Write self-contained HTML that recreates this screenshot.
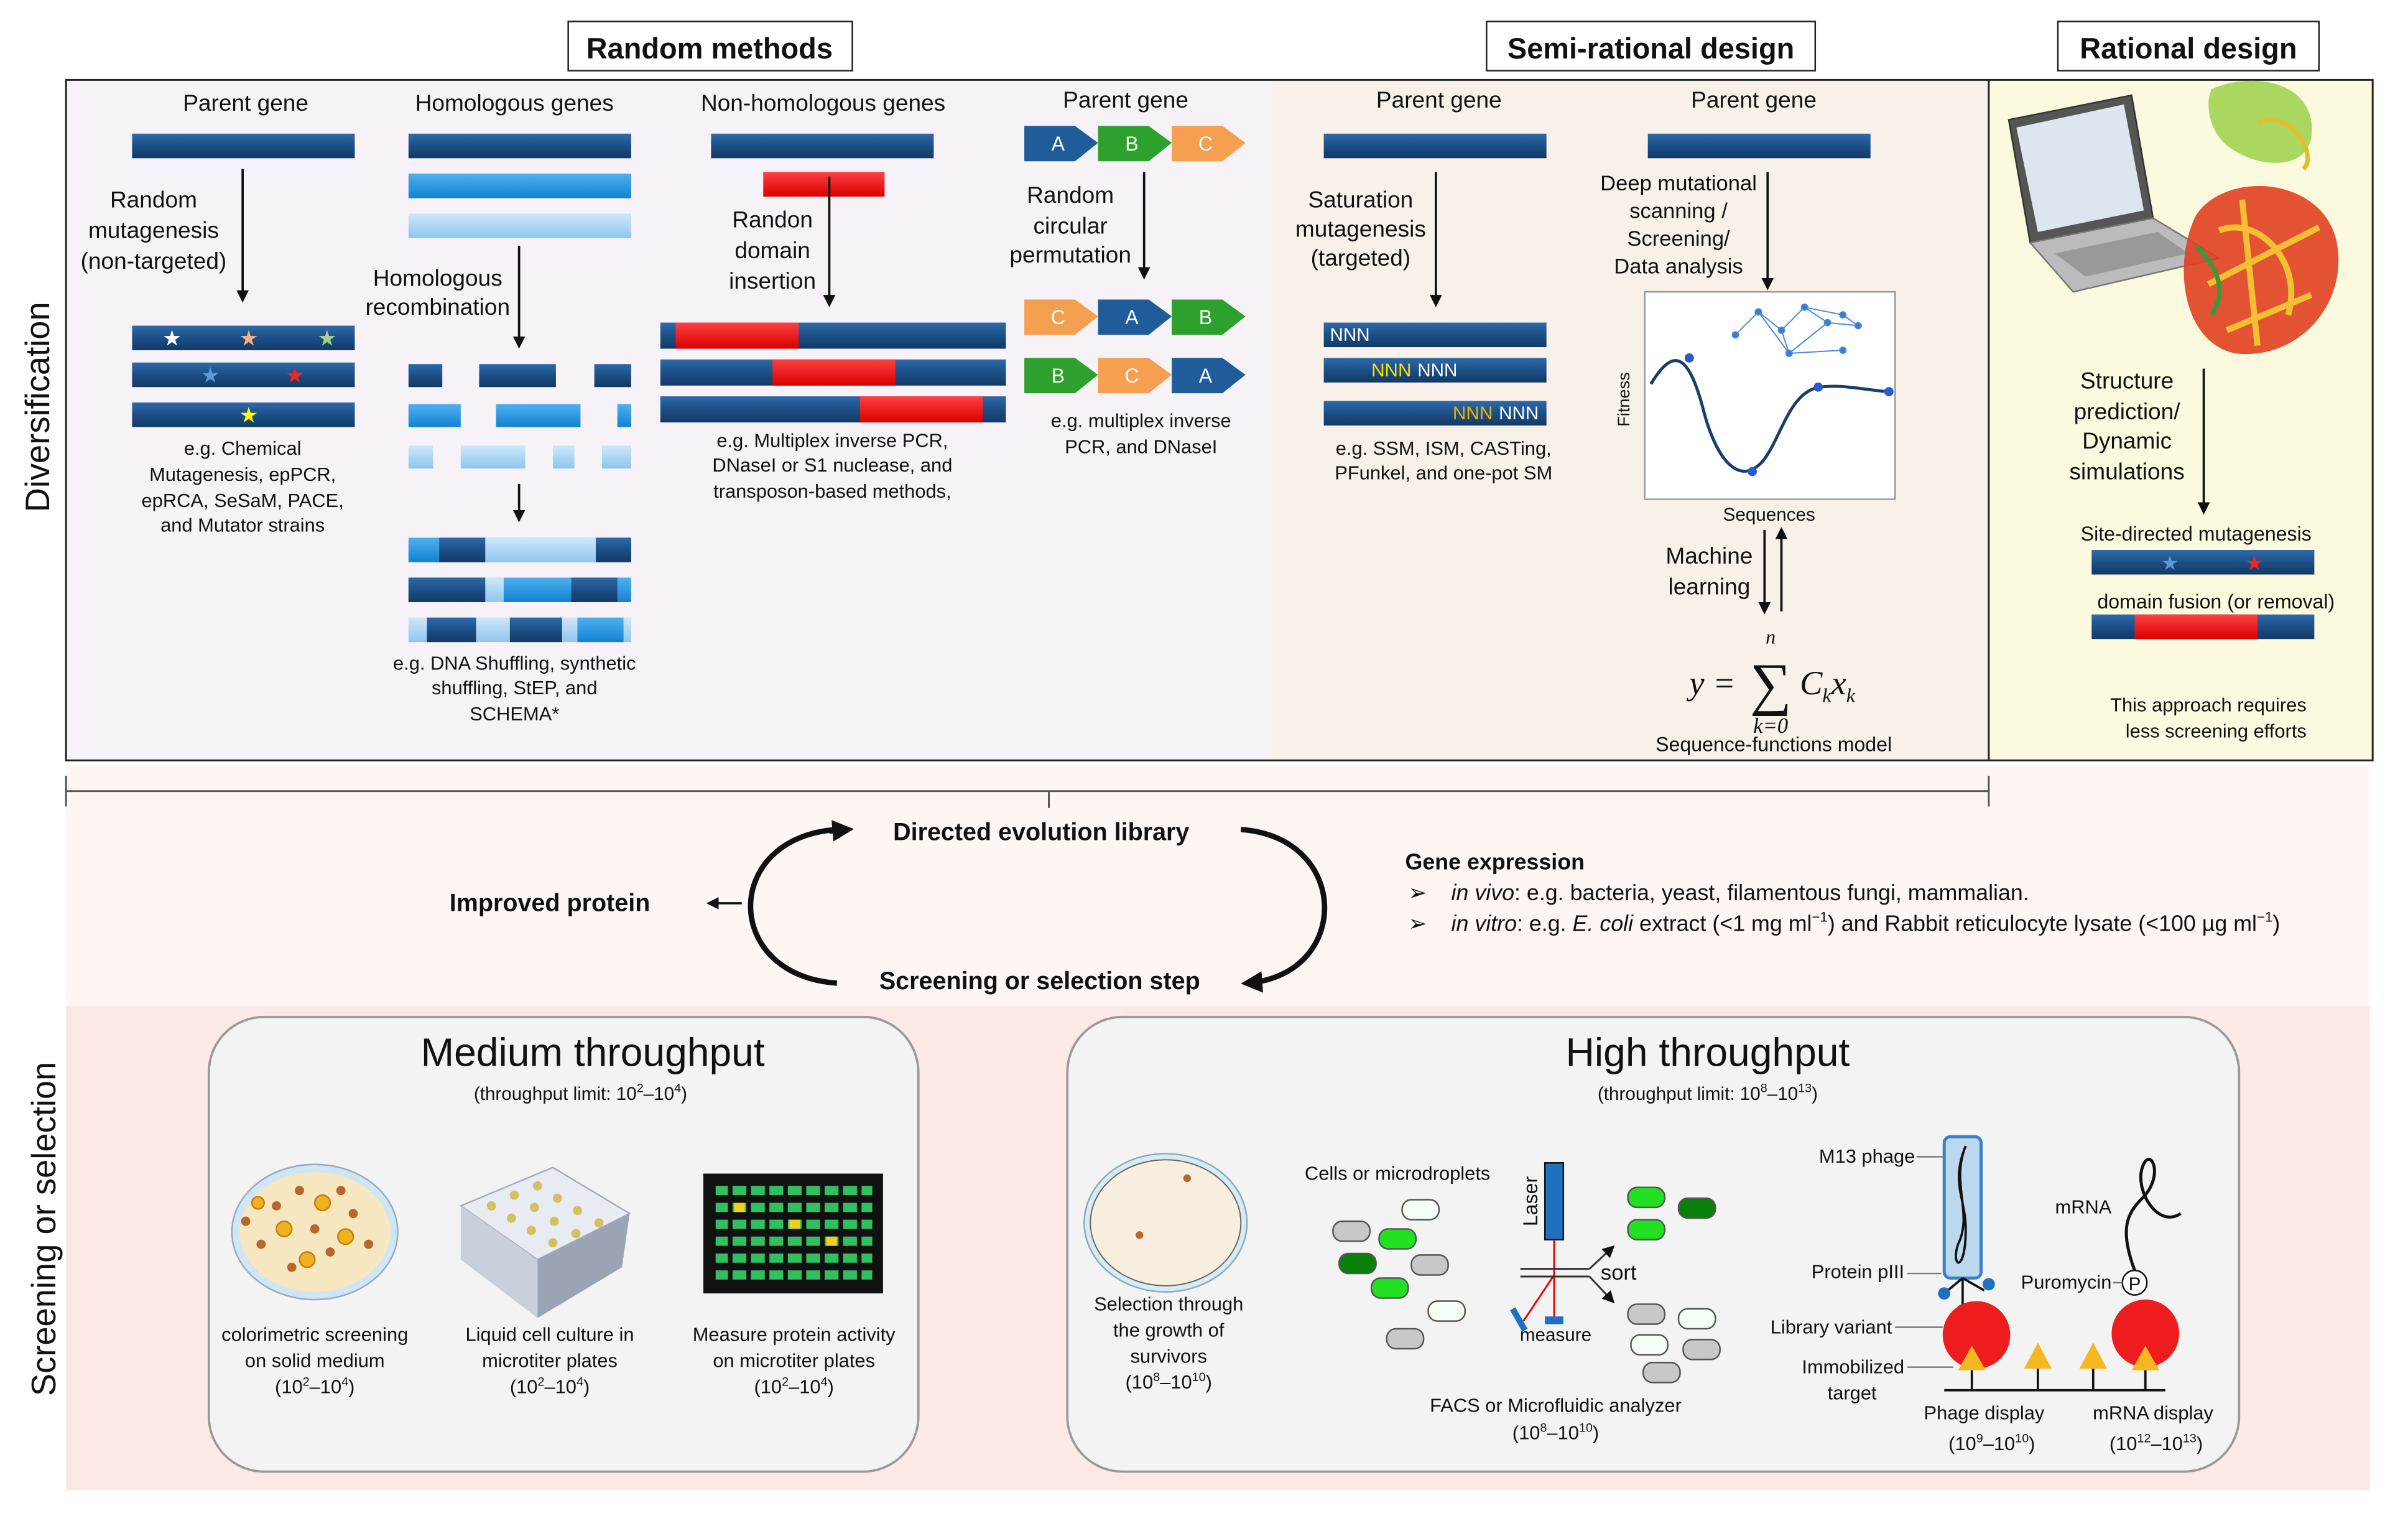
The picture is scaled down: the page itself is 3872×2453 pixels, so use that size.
<!DOCTYPE html>
<html><head><meta charset="utf-8"><style>
html,body{margin:0;padding:0;background:#fff}
svg{display:block}
text{font-family:"Liberation Sans",Arial,sans-serif;fill:#111}
</style></head><body>
<svg width="3872" height="2453" viewBox="0 0 1568 993.4" preserveAspectRatio="none" xmlns="http://www.w3.org/2000/svg">
<defs>
<linearGradient id="db" x1="0" y1="0" x2="0" y2="1"><stop offset="0" stop-color="#2e6aa8"/><stop offset=".5" stop-color="#1c4f86"/><stop offset="1" stop-color="#123a66"/></linearGradient>
<linearGradient id="mb" x1="0" y1="0" x2="0" y2="1"><stop offset="0" stop-color="#4fb0f0"/><stop offset="1" stop-color="#1382d0"/></linearGradient>
<linearGradient id="lb" x1="0" y1="0" x2="0" y2="1"><stop offset="0" stop-color="#cfe8fb"/><stop offset="1" stop-color="#8ec6ee"/></linearGradient>
<linearGradient id="rd" x1="0" y1="0" x2="0" y2="1"><stop offset="0" stop-color="#ff4040"/><stop offset="1" stop-color="#d80000"/></linearGradient>
<marker id="ah" markerWidth="8" markerHeight="8" refX="6" refY="4" orient="auto" markerUnits="userSpaceOnUse"><path d="M0,0 L8,4 L0,8 Z" fill="#111"/></marker>
<marker id="ahb" markerWidth="14" markerHeight="14" refX="10" refY="7" orient="auto" markerUnits="userSpaceOnUse"><path d="M0,0 L14,7 L0,14 Z" fill="#111"/></marker>
</defs>
<rect x="43" y="52" width="785" height="443" fill="#f7f1f8"/>
<rect x="828" y="52" width="467" height="443" fill="#f8f1ea"/>
<rect x="1295" y="52" width="250" height="443" fill="#fbf9de"/>
<rect x="43" y="52" width="1502" height="443" fill="none" stroke="#222" stroke-width="1.2"/>
<line x1="1295" y1="52" x2="1295" y2="495" stroke="#222" stroke-width="1.2"/>
<rect x="43" y="498" width="1500" height="157" fill="#fdf6f3"/>
<rect x="43" y="655" width="1500" height="315" fill="#fce9e6"/>
<rect x="370" y="14" width="185" height="32" fill="#fff" stroke="#222"/><text x="462" y="38" font-size="19" font-weight="bold" text-anchor="middle">Random methods</text>
<rect x="968" y="14" width="214" height="32" fill="#fff" stroke="#222"/><text x="1075" y="38" font-size="19" font-weight="bold" text-anchor="middle">Semi-rational design</text>
<rect x="1340" y="14" width="170" height="32" fill="#fff" stroke="#222"/><text x="1425" y="38" font-size="19" font-weight="bold" text-anchor="middle">Rational design</text>
<text transform="translate(32,265) rotate(-90)" font-size="22" text-anchor="middle">Diversification</text>
<text transform="translate(36,800) rotate(-90)" font-size="22" text-anchor="middle">Screening or selection</text>

<g font-size="15" text-anchor="middle">
<text x="160" y="72">Parent gene</text>
<rect x="86" y="87" width="145" height="16" fill="url(#db)"/>
<text x="100" y="135">Random</text><text x="100" y="155">mutagenesis</text><text x="100" y="175">(non-targeted)</text>
<line x1="158" y1="110" x2="158" y2="195" stroke="#111" stroke-width="1.5" marker-end="url(#ah)"/>
<rect x="86" y="212" width="145" height="16" fill="url(#db)"/>
<rect x="86" y="236" width="145" height="16" fill="url(#db)"/>
<rect x="86" y="262" width="145" height="16" fill="url(#db)"/>
<text x="112" y="225" font-size="14" style="fill:#fff">★</text><text x="162" y="225" font-size="14" style="fill:#f4b183">★</text><text x="213" y="225" font-size="14" style="fill:#a9d18e">★</text>
<text x="137" y="249" font-size="14" style="fill:#5b9bd5">★</text><text x="192" y="249" font-size="14" style="fill:#ff2020">★</text>
<text x="162" y="275" font-size="14" style="fill:#ffff00">★</text>
<g font-size="12.5"><text x="158" y="296">e.g. Chemical</text><text x="158" y="313">Mutagenesis, epPCR,</text><text x="158" y="330">epRCA, SeSaM, PACE,</text><text x="158" y="346">and Mutator strains</text></g>

<text x="335" y="72">Homologous genes</text>
<rect x="266" y="87" width="145" height="16" fill="url(#db)"/>
<rect x="266" y="113" width="145" height="16" fill="url(#mb)"/>
<rect x="266" y="139" width="145" height="16" fill="url(#lb)"/>
<text x="285" y="186">Homologous</text><text x="285" y="205">recombination</text>
<line x1="338" y1="160" x2="338" y2="225" stroke="#111" stroke-width="1.5" marker-end="url(#ah)"/>
<rect x="266" y="237" width="22" height="15" fill="url(#db)"/><rect x="312" y="237" width="50" height="15" fill="url(#db)"/><rect x="387" y="237" width="24" height="15" fill="url(#db)"/>
<rect x="266" y="263" width="34" height="15" fill="url(#mb)"/><rect x="323" y="263" width="55" height="15" fill="url(#mb)"/><rect x="402" y="263" width="9" height="15" fill="url(#mb)"/>
<rect x="266" y="290" width="16" height="15" fill="url(#lb)"/><rect x="300" y="290" width="42" height="15" fill="url(#lb)"/><rect x="360" y="290" width="14" height="15" fill="url(#lb)"/><rect x="392" y="290" width="19" height="15" fill="url(#lb)"/>
<line x1="338" y1="315" x2="338" y2="338" stroke="#111" stroke-width="1.5" marker-end="url(#ah)"/>
<rect x="266" y="350" width="145" height="16" fill="url(#mb)"/><rect x="286" y="350" width="30" height="16" fill="url(#db)"/><rect x="316" y="350" width="42" height="16" fill="url(#lb)"/><rect x="358" y="350" width="30" height="16" fill="url(#lb)"/><rect x="388" y="350" width="23" height="16" fill="url(#db)"/>
<rect x="266" y="376" width="145" height="16" fill="url(#mb)"/><rect x="266" y="376" width="50" height="16" fill="url(#db)"/><rect x="316" y="376" width="12" height="16" fill="url(#lb)"/><rect x="372" y="376" width="30" height="16" fill="url(#db)"/>
<rect x="266" y="402" width="145" height="16" fill="url(#lb)"/><rect x="278" y="402" width="32" height="16" fill="url(#db)"/><rect x="332" y="402" width="34" height="16" fill="url(#db)"/><rect x="376" y="402" width="30" height="16" fill="url(#mb)"/>
<g font-size="12.5"><text x="335" y="436">e.g. DNA Shuffling, synthetic</text><text x="335" y="452">shuffling, StEP,  and</text><text x="335" y="469">SCHEMA*</text></g>

<text x="536" y="72">Non-homologous genes</text>
<rect x="463" y="87" width="145" height="16" fill="url(#db)"/>
<rect x="497" y="112" width="79" height="16" fill="url(#rd)"/>
<text x="503" y="148">Randon</text><text x="503" y="168">domain</text><text x="503" y="188">insertion</text>
<line x1="540" y1="115" x2="540" y2="198" stroke="#111" stroke-width="1.5" marker-end="url(#ah)"/>
<rect x="430" y="210" width="225" height="17" fill="url(#db)"/><rect x="440" y="210" width="80" height="17" fill="url(#rd)"/>
<rect x="430" y="234" width="225" height="17" fill="url(#db)"/><rect x="503" y="234" width="80" height="17" fill="url(#rd)"/>
<rect x="430" y="258" width="225" height="17" fill="url(#db)"/><rect x="560" y="258" width="80" height="17" fill="url(#rd)"/>
<g font-size="12.5"><text x="542" y="291">e.g. Multiplex inverse PCR,</text><text x="542" y="307">DNaseI or S1 nuclease, and</text><text x="542" y="324">transposon-based methods,</text></g>

<text x="733" y="70">Parent gene</text>
<g font-size="13">
<path d="M667,82 H700 L715,93 L700,105 H667 Z" fill="#1f5c99"/><text x="689" y="98" style="fill:#fff">A</text>
<path d="M715,82 H748 L763,93 L748,105 H715 Z" fill="#2ea02e"/><text x="737" y="98" style="fill:#fff">B</text>
<path d="M763,82 H796 L811,93 L796,105 H763 Z" fill="#f4a050"/><text x="785" y="98" style="fill:#fff">C</text>
<path d="M667,195 H700 L715,206 L700,218 H667 Z" fill="#f4a050"/><text x="689" y="211" style="fill:#fff">C</text>
<path d="M715,195 H748 L763,206 L748,218 H715 Z" fill="#1f5c99"/><text x="737" y="211" style="fill:#fff">A</text>
<path d="M763,195 H796 L811,206 L796,218 H763 Z" fill="#2ea02e"/><text x="785" y="211" style="fill:#fff">B</text>
<path d="M667,233 H700 L715,244 L700,256 H667 Z" fill="#2ea02e"/><text x="689" y="249" style="fill:#fff">B</text>
<path d="M715,233 H748 L763,244 L748,256 H715 Z" fill="#f4a050"/><text x="737" y="249" style="fill:#fff">C</text>
<path d="M763,233 H796 L811,244 L796,256 H763 Z" fill="#1f5c99"/><text x="785" y="249" style="fill:#fff">A</text>
</g>
<text x="697" y="132">Random</text><text x="697" y="152">circular</text><text x="697" y="171">permutation</text>
<line x1="745" y1="112" x2="745" y2="180" stroke="#111" stroke-width="1.5" marker-end="url(#ah)"/>
<g font-size="12.5"><text x="743" y="278">e.g. multiplex inverse</text><text x="743" y="295">PCR, and DNaseI</text></g>

<text x="937" y="70">Parent gene</text>
<rect x="862" y="87" width="145" height="16" fill="url(#db)"/>
<text x="886" y="135">Saturation</text><text x="886" y="154">mutagenesis</text><text x="886" y="173">(targeted)</text>
<line x1="935" y1="112" x2="935" y2="198" stroke="#111" stroke-width="1.5" marker-end="url(#ah)"/>
<rect x="862" y="210" width="145" height="16" fill="url(#db)"/><text x="866" y="222" font-size="12" text-anchor="start" style="fill:#fff">NNN</text>
<rect x="862" y="233" width="145" height="16" fill="url(#db)"/><text x="893" y="245" font-size="12" text-anchor="start" style="fill:#ffe000">NNN</text><text x="923" y="245" font-size="12" text-anchor="start" style="fill:#fff">NNN</text>
<rect x="862" y="261" width="145" height="16" fill="url(#db)"/><text x="946" y="273" font-size="12" text-anchor="start" style="fill:#f4b000">NNN</text><text x="976" y="273" font-size="12" text-anchor="start" style="fill:#fff">NNN</text>
<g font-size="12.5"><text x="940" y="296">e.g. SSM, ISM, CASTing,</text><text x="940" y="312">PFunkel, and one-pot SM</text></g>

<text x="1142" y="70">Parent gene</text>
<rect x="1073" y="87" width="145" height="16" fill="url(#db)"/>
<g font-size="14"><text x="1093" y="124">Deep mutational</text><text x="1093" y="142">scanning /</text><text x="1093" y="160">Screening/</text><text x="1093" y="178">Data analysis</text></g>
<line x1="1151" y1="112" x2="1151" y2="187" stroke="#111" stroke-width="1.5" marker-end="url(#ah)"/>
<rect x="1071" y="190" width="163" height="135" fill="#fff" stroke="#999"/>
<path d="M1075,250 C1090,225 1100,230 1110,270 C1120,305 1135,315 1148,300 C1160,285 1165,255 1185,252 C1200,250 1215,254 1230,255" fill="none" stroke="#1a3d6b" stroke-width="2"/>
<g fill="#2a5ad0"><circle cx="1100" cy="233" r="3"/><circle cx="1141" cy="307" r="3"/><circle cx="1184" cy="252" r="3"/><circle cx="1230" cy="255" r="3"/></g>
<g stroke="#4a8ad8" stroke-width="0.8" fill="#3a7ad8"><path d="M1130,218 L1145,203 L1160,215 L1175,200 L1190,210 L1210,212 M1145,203 L1165,230 L1190,210 M1160,215 L1165,230 L1200,228 M1175,200 L1200,205 L1210,212" fill="none"/><circle cx="1130" cy="218" r="2"/><circle cx="1145" cy="203" r="2"/><circle cx="1160" cy="215" r="2"/><circle cx="1175" cy="200" r="2"/><circle cx="1190" cy="210" r="2"/><circle cx="1210" cy="212" r="2"/><circle cx="1165" cy="230" r="2"/><circle cx="1200" cy="228" r="2"/><circle cx="1200" cy="205" r="2"/></g>
<text transform="translate(1061,260) rotate(-90)" font-size="11">Fitness</text>
<text x="1152" y="339" font-size="12">Sequences</text>
<text x="1113" y="367">Machine</text><text x="1113" y="387">learning</text>
<line x1="1149" y1="345" x2="1149" y2="398" stroke="#111" stroke-width="1.5" marker-end="url(#ah)"/>
<line x1="1160" y1="398" x2="1160" y2="345" stroke="#111" stroke-width="1.5" marker-end="url(#ah)"/>
<text x="1100" y="452" font-size="22" font-style="italic" text-anchor="start" style="font-family:'Liberation Serif'">y =</text>
<text x="1153" y="458" font-size="38" style="font-family:'Liberation Serif'">∑</text>
<text x="1153" y="419" font-size="13" font-style="italic" style="font-family:'Liberation Serif'">n</text>
<text x="1153" y="477" font-size="14" font-style="italic" style="font-family:'Liberation Serif'">k=0</text>
<text x="1172" y="452" font-size="22" font-style="italic" text-anchor="start" style="font-family:'Liberation Serif'">C<tspan font-size="13" dy="5">k</tspan><tspan dy="-5">x</tspan><tspan font-size="13" dy="5">k</tspan></text>
<text x="1155" y="489" font-size="13">Sequence-functions model</text>

<path d="M1308,78 L1388,62 L1402,142 L1322,158 Z" fill="#555" stroke="#333"/>
<path d="M1313,83 L1383,68 L1396,137 L1327,151 Z" fill="#dde6ee"/>
<path d="M1322,158 L1402,142 L1445,168 L1350,190 Z" fill="#bbb" stroke="#777"/>
<path d="M1338,165 L1405,151 L1425,165 L1358,180 Z" fill="#999"/>
<path d="M1440,58 C1470,45 1510,55 1505,90 C1500,112 1470,108 1455,98 C1440,90 1435,70 1440,58 Z" fill="#9ad14a" opacity=".85"/>
<path d="M1470,80 C1490,70 1510,100 1500,110" stroke="#e0c030" stroke-width="3" fill="none"/>
<path d="M1430,140 C1450,110 1515,115 1522,160 C1528,200 1495,235 1455,230 C1420,222 1415,170 1430,140 Z" fill="#e04020" opacity=".9"/>
<path d="M1445,150 C1470,140 1500,170 1490,205 M1438,185 L1510,148 M1450,215 L1505,192 M1460,130 L1470,225" stroke="#f2c030" stroke-width="4" fill="none"/>
<path d="M1430,160 C1445,175 1450,190 1440,205" stroke="#3a9a3a" stroke-width="3" fill="none"/>
<g font-size="15"><text x="1385" y="253">Structure</text><text x="1385" y="273">prediction/</text><text x="1385" y="292">Dynamic</text><text x="1385" y="312">simulations</text></g>
<line x1="1435" y1="240" x2="1435" y2="333" stroke="#111" stroke-width="1.5" marker-end="url(#ah)"/>
<text x="1430" y="352" font-size="13">Site-directed mutagenesis</text>
<rect x="1362" y="358" width="145" height="16" fill="url(#db)"/>
<text x="1413" y="371" font-size="13" style="fill:#5b9bd5">★</text><text x="1468" y="371" font-size="13" style="fill:#ff2020">★</text>
<text x="1443" y="396" font-size="13">domain fusion (or removal)</text>
<rect x="1362" y="400" width="145" height="16" fill="url(#db)"/><rect x="1390" y="400" width="80" height="16" fill="url(#rd)"/>
<g font-size="12.5"><text x="1438" y="463">This approach requires</text><text x="1443" y="480">less screening efforts</text></g>
</g>

<g stroke="#555" stroke-width="1.2"><line x1="43" y1="515" x2="1295" y2="515"/><line x1="43" y1="505" x2="43" y2="525"/><line x1="1295" y1="505" x2="1295" y2="525"/><line x1="683" y1="515" x2="683" y2="526"/></g>

<g font-size="16" font-weight="bold" text-anchor="middle">
<text x="678" y="547">Directed evolution library</text>
<text x="358" y="593">Improved protein</text>
<text x="677" y="644">Screening or selection step</text>
</g>
<line x1="483" y1="588" x2="462" y2="588" stroke="#111" stroke-width="1.5" marker-end="url(#ah)"/>
<path d="M545,540 C470,545 470,635 545,640" fill="none" stroke="#111" stroke-width="3.5"/>
<path d="M540,541 L552,540" stroke="#111" stroke-width="3.5" marker-end="url(#ahb)"/>
<path d="M808,540 C880,545 880,635 812,640" fill="none" stroke="#111" stroke-width="3.5" marker-end="url(#ahb)"/>
<g font-size="14.5"><text x="915" y="566" font-weight="bold">Gene expression</text>
<text x="917" y="586">➢</text><text x="945" y="586"><tspan font-style="italic">in vivo</tspan>: e.g. bacteria, yeast, filamentous fungi, mammalian.</text>
<text x="917" y="606">➢</text><text x="945" y="606"><tspan font-style="italic">in vitro</tspan>: e.g. <tspan font-style="italic">E. coli</tspan> extract (&lt;1 mg ml<tspan font-size="9" dy="-6">−1</tspan><tspan dy="6">) and Rabbit reticulocyte lysate (&lt;100 µg ml</tspan><tspan font-size="9" dy="-6">−1</tspan><tspan dy="6">)</tspan></text></g>

<rect x="136" y="662" width="462" height="296" rx="36" fill="#f3f3f3" stroke="#999" stroke-width="1.5"/>
<rect x="695" y="662" width="763" height="296" rx="36" fill="#f3f3f3" stroke="#999" stroke-width="1.5"/>
<g text-anchor="middle">
<text x="386" y="694" font-size="26">Medium throughput</text>
<text x="378" y="716" font-size="12">(throughput limit: 10<tspan font-size="8" dy="-5">2</tspan><tspan dy="5">–10</tspan><tspan font-size="8" dy="-5">4</tspan><tspan dy="5">)</tspan></text>
<text x="1112" y="694" font-size="26">High throughput</text>
<text x="1112" y="716" font-size="12">(throughput limit: 10<tspan font-size="8" dy="-5">8</tspan><tspan dy="5">–10</tspan><tspan font-size="8" dy="-5">13</tspan><tspan dy="5">)</tspan></text>
</g>
<ellipse cx="205" cy="802" rx="54" ry="44" fill="#cfe6f4" stroke="#9ab"/>
<ellipse cx="205" cy="802" rx="49" ry="39" fill="#f7e7c0"/>
<g fill="#b8662a"><circle cx="180" cy="785" r="3"/><circle cx="195" cy="775" r="3"/><circle cx="230" cy="790" r="3"/><circle cx="215" cy="815" r="3"/><circle cx="170" cy="810" r="3"/><circle cx="240" cy="810" r="3"/><circle cx="190" cy="825" r="3"/><circle cx="222" cy="775" r="3"/><circle cx="205" cy="800" r="3"/><circle cx="160" cy="795" r="3"/></g>
<g fill="#f0b020" stroke="#c08010"><circle cx="185" cy="800" r="5"/><circle cx="210" cy="783" r="5"/><circle cx="225" cy="805" r="5"/><circle cx="200" cy="820" r="5"/><circle cx="168" cy="783" r="4"/></g>
<path d="M300,785 L360,760 L410,790 L350,820 Z" fill="#e8ecf2" stroke="#aab"/>
<path d="M300,785 L350,820 L350,858 L300,820 Z" fill="#c9d0da"/>
<path d="M350,820 L410,790 L405,825 L350,858 Z" fill="#9aa4b4"/>
<g fill="#d4c060"><circle cx="320" cy="785" r="3"/><circle cx="335" cy="778" r="3"/><circle cx="350" cy="772" r="3"/><circle cx="333" cy="793" r="3"/><circle cx="348" cy="786" r="3"/><circle cx="363" cy="780" r="3"/><circle cx="346" cy="801" r="3"/><circle cx="361" cy="795" r="3"/><circle cx="376" cy="788" r="3"/><circle cx="360" cy="809" r="3"/><circle cx="375" cy="803" r="3"/><circle cx="390" cy="796" r="3"/></g>
<rect x="458" y="764" width="117" height="78" fill="#111"/>
<g fill="#30c060"><path d="M466,772 h102 v6 h-102z M466,783 h102 v6 h-102z M466,794 h102 v6 h-102z M466,805 h102 v6 h-102z M466,816 h102 v6 h-102z M466,827 h102 v6 h-102z"/></g>
<g fill="#111"><rect x="474" y="770" width="3" height="66"/><rect x="486" y="770" width="3" height="66"/><rect x="498" y="770" width="3" height="66"/><rect x="510" y="770" width="3" height="66"/><rect x="522" y="770" width="3" height="66"/><rect x="534" y="770" width="3" height="66"/><rect x="546" y="770" width="3" height="66"/><rect x="558" y="770" width="3" height="66"/></g>
<g fill="#f0d020"><rect x="478" y="783" width="7" height="6"/><rect x="514" y="794" width="7" height="6"/><rect x="538" y="805" width="7" height="6"/></g>
<g font-size="12.5" text-anchor="middle">
<text x="205" y="873">colorimetric screening</text><text x="205" y="890">on solid medium</text><text x="205" y="907">(10<tspan font-size="8" dy="-5">2</tspan><tspan dy="5">–10</tspan><tspan font-size="8" dy="-5">4</tspan><tspan dy="5">)</tspan></text>
<text x="358" y="873">Liquid cell culture in</text><text x="358" y="890">microtiter plates</text><text x="358" y="907">(10<tspan font-size="8" dy="-5">2</tspan><tspan dy="5">–10</tspan><tspan font-size="8" dy="-5">4</tspan><tspan dy="5">)</tspan></text>
<text x="517" y="873">Measure protein activity</text><text x="517" y="890">on microtiter plates</text><text x="517" y="907">(10<tspan font-size="8" dy="-5">2</tspan><tspan dy="5">–10</tspan><tspan font-size="8" dy="-5">4</tspan><tspan dy="5">)</tspan></text>
<text x="761" y="853">Selection through</text><text x="761" y="870">the growth of</text><text x="761" y="887">survivors</text><text x="761" y="904">(10<tspan font-size="8" dy="-5">8</tspan><tspan dy="5">–10</tspan><tspan font-size="8" dy="-5">10</tspan><tspan dy="5">)</tspan></text>
<text x="910" y="768">Cells or microdroplets</text>
<text x="1013" y="919">FACS or Microfluidic analyzer</text><text x="1013" y="937">(10<tspan font-size="8" dy="-5">8</tspan><tspan dy="5">–10</tspan><tspan font-size="8" dy="-5">10</tspan><tspan dy="5">)</tspan></text>
<text x="1013" y="873" font-size="12">measure</text>
<text x="1054" y="833" font-size="14">sort</text>
<text x="1292" y="924">Phage  display</text><text x="1297" y="944">(10<tspan font-size="8" dy="-5">9</tspan><tspan dy="5">–10</tspan><tspan font-size="8" dy="-5">10</tspan><tspan dy="5">)</tspan></text>
<text x="1402" y="924">mRNA  display</text><text x="1404" y="944">(10<tspan font-size="8" dy="-5">12</tspan><tspan dy="5">–10</tspan><tspan font-size="8" dy="-5">13</tspan><tspan dy="5">)</tspan></text>
</g>
<g font-size="12.5" text-anchor="end">
<text x="1247" y="757">M13 phage</text><text x="1240" y="832">Protein pIII</text><text x="1232" y="868">Library variant</text>
<text x="1240" y="894">Immobilized</text><text x="1222" y="911">target</text>
<text x="1375" y="839">Puromycin</text><text x="1375" y="790">mRNA</text>
</g>
<ellipse cx="759" cy="796" rx="53" ry="45" fill="#d8eaf4" stroke="#8ab"/>
<ellipse cx="759" cy="796" rx="49" ry="41" fill="#f7eedf" stroke="#666" stroke-width=".8"/>
<circle cx="773" cy="767" r="2.5" fill="#b8662a"/><circle cx="742" cy="804" r="2.5" fill="#b8662a"/>
<g stroke="#555" stroke-width="1">
<rect x="913" y="781" width="24" height="13" rx="6" fill="#f5fff5"/>
<rect x="868" y="795" width="24" height="13" rx="6" fill="#c8c8c8"/>
<rect x="898" y="800" width="24" height="13" rx="6" fill="#22e022"/>
<rect x="872" y="816" width="24" height="13" rx="6" fill="#0a800a"/>
<rect x="919" y="817" width="24" height="13" rx="6" fill="#c8c8c8"/>
<rect x="893" y="832" width="24" height="13" rx="6" fill="#22e022"/>
<rect x="930" y="847" width="24" height="13" rx="6" fill="#f5fff5"/>
<rect x="903" y="865" width="24" height="13" rx="6" fill="#c8c8c8"/>
<rect x="1060" y="773" width="24" height="13" rx="6" fill="#22e022"/>
<rect x="1093" y="780" width="24" height="13" rx="6" fill="#0a800a"/>
<rect x="1060" y="794" width="24" height="13" rx="6" fill="#22e022"/>
<rect x="1060" y="849" width="24" height="13" rx="6" fill="#c8c8c8"/>
<rect x="1093" y="852" width="24" height="13" rx="6" fill="#f5fff5"/>
<rect x="1062" y="869" width="24" height="13" rx="6" fill="#f5fff5"/>
<rect x="1096" y="872" width="24" height="13" rx="6" fill="#c8c8c8"/>
<rect x="1070" y="887" width="24" height="13" rx="6" fill="#c8c8c8"/>
</g>
<rect x="1006" y="757" width="12" height="50" fill="#1f70c0" stroke="#111"/>
<text transform="translate(1001,782) rotate(-90)" font-size="13" text-anchor="middle">Laser</text>
<line x1="1012" y1="807" x2="1012" y2="858" stroke="#e00" stroke-width="1.2"/>
<line x1="1012" y1="830" x2="992" y2="860" stroke="#e00" stroke-width="1.2"/>
<rect x="1006" y="857" width="12" height="5" fill="#1f70c0"/>
<line x1="985" y1="852" x2="993" y2="866" stroke="#1f70c0" stroke-width="4"/>
<g stroke="#333" stroke-width="1.2" fill="none"><line x1="990" y1="826" x2="1035" y2="826"/><line x1="990" y1="831" x2="1035" y2="831"/><path d="M1035,826 L1050,812" marker-end="url(#ah)"/><path d="M1035,831 L1050,847" marker-end="url(#ah)"/></g>
<rect x="1266" y="740" width="24" height="92" rx="4" fill="#bcd8ef" stroke="#3a80c8" stroke-width="2"/>
<path d="M1280,746 C1270,770 1285,790 1275,810 C1270,825 1280,830 1280,800 C1280,780 1270,770 1280,746" fill="none" stroke="#111" stroke-width="1.5"/>
<g stroke="#111" stroke-width="1.5"><line x1="1278" y1="832" x2="1266" y2="842"/><line x1="1278" y1="832" x2="1292" y2="840"/><line x1="1278" y1="832" x2="1278" y2="850"/></g>
<g fill="#1f70c0"><circle cx="1266" cy="842" r="4"/><circle cx="1295" cy="836" r="4"/><circle cx="1278" cy="853" r="4"/></g>
<g stroke="#777"><line x1="1248" y1="753" x2="1266" y2="753"/><line x1="1242" y1="829" x2="1264" y2="829"/><line x1="1234" y1="864" x2="1265" y2="864"/><line x1="1242" y1="890" x2="1272" y2="890"/></g>
<circle cx="1287" cy="869" r="22" fill="#ee1c1c"/>
<circle cx="1397" cy="868" r="22" fill="#ee1c1c"/>
<g fill="#f5b820"><path d="M1275,892 L1284,876 L1293,892Z"/><path d="M1318,891 L1327,874 L1336,891Z"/><path d="M1354,891 L1363,874 L1372,891Z"/><path d="M1388,892 L1397,876 L1406,892Z"/></g>
<g stroke="#111" stroke-width="1.5"><line x1="1266" y1="905" x2="1410" y2="905"/><line x1="1284" y1="892" x2="1284" y2="905"/><line x1="1327" y1="891" x2="1327" y2="905"/><line x1="1363" y1="891" x2="1363" y2="905"/><line x1="1397" y1="892" x2="1397" y2="905"/></g>
<circle cx="1390" cy="835" r="8" fill="#fff" stroke="#111"/><text x="1390" y="840" font-size="12" text-anchor="middle">P</text>
<line x1="1376" y1="835" x2="1382" y2="835" stroke="#777"/>
<path d="M1390,827 C1380,800 1385,790 1395,780 C1410,765 1400,745 1395,760 C1390,775 1405,800 1420,790" fill="none" stroke="#111" stroke-width="2"/>
</svg>
</body></html>
